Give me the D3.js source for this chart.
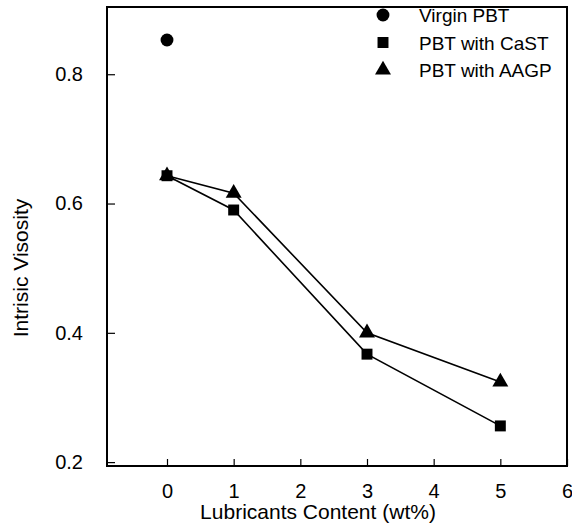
<!DOCTYPE html>
<html>
<head>
<meta charset="utf-8">
<script src="https://cdn.jsdelivr.net/npm/d3@7/dist/d3.min.js"></script>
<style>
  html, body { margin: 0; padding: 0; background: #fff; }
  svg { display: block; font-family: "Liberation Sans", Arial, sans-serif; }
</style>
</head>
<body>
<svg id="chart" width="572" height="528"></svg>
<script>
// Lubricant content (wt%) and intrinsic viscosity per sample
const virginX = [0];
const virginY = [0.853];
const castX = [0, 1, 3, 5];
const castY = [0.643, 0.590, 0.367, 0.256];
const aagpX = [0, 1, 3, 5];
const aagpY = [0.643, 0.616, 0.400, 0.324];
const xTicks = [0, 1, 2, 3, 4, 5, 6];
const yTicks = [0.2, 0.4, 0.6, 0.8];
const legendLabels = ["Virgin PBT", "PBT with CaST", "PBT with AAGP"];

const svg = d3.select("#chart");
const plotL = 107, plotR = 567, plotT = 7, plotB = 466;

const x = d3.scaleLinear().domain([-0.9, 6]).range([plotL, plotR]);
const y = d3.scaleLinear().domain([0.194, 0.904]).range([plotB, plotT]);

// bottom axis, ticks pointing inward
const xAxis = svg.append("g")
  .attr("transform", `translate(0,${plotB})`)
  .call(d3.axisBottom(x).tickValues(xTicks).tickFormat(d3.format("d"))
    .tickSizeInner(-7).tickSizeOuter(0).tickPadding(18));
xAxis.select(".domain").remove();
xAxis.selectAll(".tick line").attr("stroke", "#000").attr("stroke-width", 1.2);
xAxis.selectAll(".tick text").attr("font-size", 20).attr("fill", "#000");

// left axis, ticks pointing inward
const yAxis = svg.append("g")
  .attr("transform", `translate(${plotL},0)`)
  .call(d3.axisLeft(y).tickValues(yTicks).tickFormat(d3.format(".1f"))
    .tickSizeInner(-8).tickSizeOuter(0).tickPadding(24));
yAxis.select(".domain").remove();
yAxis.selectAll(".tick line").attr("stroke", "#000").attr("stroke-width", 1.2);
yAxis.selectAll(".tick text").attr("font-size", 20).attr("fill", "#000");

// plot frame
svg.append("rect")
  .attr("x", plotL).attr("y", plotT)
  .attr("width", plotR - plotL).attr("height", plotB - plotT)
  .attr("fill", "none").attr("stroke", "#000").attr("stroke-width", 2);

// axis titles
svg.append("text")
  .attr("x", 318).attr("y", 519)
  .attr("text-anchor", "middle").attr("font-size", 21)
  .text("Lubricants Content (wt%)");
svg.append("text")
  .attr("transform", `translate(28,268) rotate(-90)`)
  .attr("text-anchor", "middle").attr("font-size", 21)
  .text("Intrisic Visosity");

const line = d3.line().x(d => x(d[0])).y(d => y(d[1]));
const castPts = castX.map((v, i) => [v, castY[i]]);
const aagpPts = aagpX.map((v, i) => [v, aagpY[i]]);

[castPts, aagpPts].forEach(pts => {
  svg.append("path").datum(pts).attr("d", line)
    .attr("fill", "none").attr("stroke", "#000").attr("stroke-width", 1.6);
});

const sym = {
  circle: d3.symbol().type(d3.symbolCircle).size(130),
  square: d3.symbol().type(d3.symbolSquare).size(120),
  triangle: d3.symbol().type(d3.symbolTriangle).size(110)
};

svg.selectAll(".virgin").data(virginX.map((v, i) => [v, virginY[i]])).enter()
  .append("path").attr("d", sym.circle())
  .attr("transform", d => `translate(${x(d[0])},${y(d[1])})`);
svg.selectAll(".aagp").data(aagpPts).enter()
  .append("path").attr("d", sym.triangle())
  .attr("transform", d => `translate(${x(d[0])},${y(d[1])})`);
svg.selectAll(".cast").data(castPts).enter()
  .append("path").attr("d", sym.square())
  .attr("transform", d => `translate(${x(d[0])},${y(d[1])})`);

// legend
const legendSyms = [sym.circle, sym.square, sym.triangle];
legendLabels.forEach((lab, i) => {
  const ly = 15 + i * 27.5;
  svg.append("path").attr("d", legendSyms[i]())
    .attr("transform", `translate(383,${ly})`);
  svg.append("text").attr("x", 419).attr("y", ly + 7)
    .attr("font-size", 19).text(lab);
});
</script>
</body>
</html>
